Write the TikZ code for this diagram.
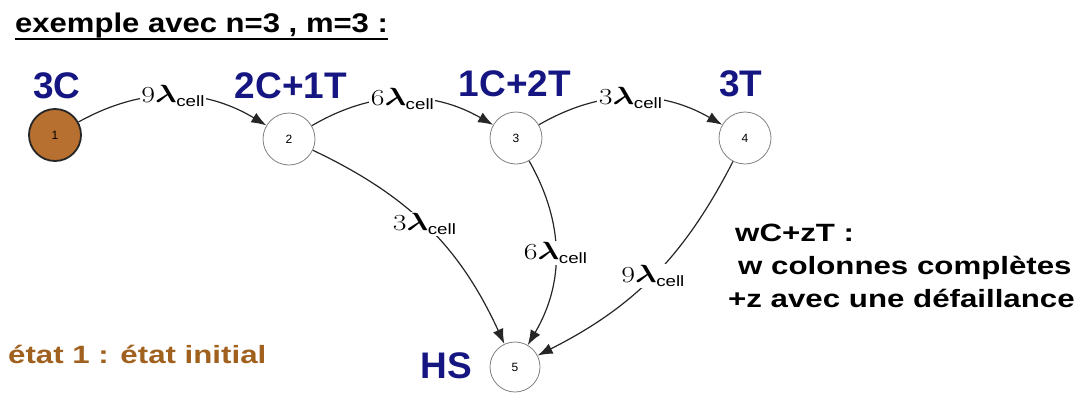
\documentclass[tikz,border=0pt]{standalone}
\usepackage{fontspec}
\usepackage{graphicx}
\usepackage{amsmath}
\newfontfamily\wsans[FakeStretch=1.25]{Liberation Sans}
\newfontfamily\tsans[FakeStretch=1.15]{Liberation Sans}
\newfontfamily\plainsans{Liberation Sans}
\usetikzlibrary{arrows.meta}
\definecolor{lblue}{RGB}{22,22,130}
\definecolor{brownfill}{RGB}{184,112,48}
\definecolor{browntext}{RGB}{160,96,30}
\newcommand{\rate}[1]{\scalebox{1.3}[1]{\fontsize{23}{23}\selectfont #1$\boldsymbol{\lambda}$}\kern-0.5pt\raisebox{-4pt}{\wsans\fontsize{15}{15}\selectfont cell}}
\begin{document}
\begin{tikzpicture}[x=1pt,y=-1pt,
  state/.style={circle, draw=black!50, line width=0.8pt, minimum size=52pt, inner sep=0pt,
                font=\plainsans\fontsize{12}{12}\selectfont},
  trans/.style={-{Latex[length=15pt,width=11pt]}, line width=1.2pt, draw=black!85},
  lab/.style={fill=white, inner sep=1.5pt},
  blue/.style={text=lblue, font=\plainsans\bfseries\fontsize{37}{37}\selectfont, inner sep=0pt, anchor=base},
  txt/.style={font=\wsans\bfseries\fontsize{25}{25}\selectfont, inner sep=0pt, anchor=base west}]
\useasboundingbox (0,0) rectangle (1088,394);

% title
\node[txt, font=\tsans\bfseries\fontsize{27}{27}\selectfont] (title) at (15,32) {exemple avec n=3 , m=3 :};
\draw[line width=2.4pt] ([yshift=-7pt]title.base west) -- ([yshift=-7pt]title.base east);

% states
\node[state, fill=brownfill, draw=black!85, line width=1.8pt] (n1) at (55,135) {1};
\node[state] (n2) at (289,139) {2};
\node[state] (n3) at (516,138) {3};
\node[state] (n4) at (745,138) {4};
\node[state, minimum size=50pt] (n5) at (515,367) {5};

% state names
\node[blue] (l1) at (57,98) {3C};
\node[blue] (l2) at (291,98) {2C+1T};
\node[blue] (l3) at (515,96) {1C+2T};
\node[blue] (l4) at (741,96) {3T};
\node[blue] (l5) at (446,378) {HS};

% transitions
\draw[trans] (n1) to[bend left=30] node[lab]{\rate{9}} (n2);
\draw[trans] (n2) to[bend left=30] node[lab]{\rate{6}} (n3);
\draw[trans] (n3) to[bend left=30] node[lab]{\rate{3}} (n4);
\draw[trans] (n2) to[bend left=20] node[lab, pos=0.48]{\rate{3}} (n5);
\draw[trans] (n3) to[bend left=30] node[lab]{\rate{6}} (n5);
\draw[trans] (n4) to[bend left=18] node[lab]{\rate{9}} (n5);

% legend
\node[txt] (k1) at (735,241) {wC+zT :};
\node[txt] (k2) at (738,274) {w colonnes complètes};
\node[txt] (k3) at (728,307) {+z avec une défaillance};

\node[txt, text=browntext] (init) at (8,363) {état 1 : état initial};
\end{tikzpicture}
\end{document}
